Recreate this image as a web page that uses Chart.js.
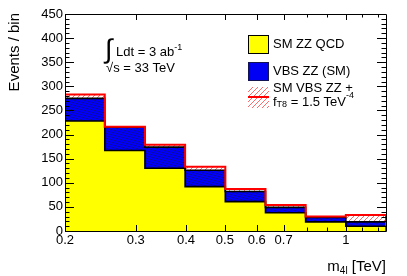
<!DOCTYPE html>
<html>
<head>
<meta charset="utf-8">
<script src="https://cdn.jsdelivr.net/npm/chart.js@4.4.4/dist/chart.umd.min.js"></script>
<style>
  html, body { margin: 0; padding: 0; background: #fff; }
  #wrap { width: 407px; height: 276px; }
</style>
</head>
<body>
<div id="wrap"><canvas id="chart" width="407" height="276"></canvas></div>
<script>
// bin edges in TeV, 0.1 decade wide
const binEdges = [0.2, 0.2512, 0.3162, 0.3981, 0.5012, 0.6310, 0.7943, 1.0, 1.2589];
// events per bin
const qcdZZ = [228, 167, 130, 92, 61, 38, 19, 10];
const vbsZZ = [47, 48, 44, 34, 21, 11, 9, 9];
const vbsZZfT8 = [55, 49, 49, 41, 26, 16, 11, 23];

const xTickValues = [0.2, 0.3, 0.4, 0.5, 0.6, 0.7, 0.8, 0.9, 1, 1.1, 1.2];
const xTickLabels = ["0.2", "0.3", "0.4", "0.5", "0.6", "0.7", "", "", "1", "", ""];
const yMin = 0, yMax = 450, yStep = 50, yMinorStep = 10;

const FONT = "'Liberation Sans', Arial, sans-serif";

function addUp(a, b) {
    return a.map((v, i) => v + b[i]);
}

// histogram outline as a stepped line, closed down to zero on both ends
function stepPoints(vals) {
    const last = binEdges[binEdges.length - 1];
    const pts = [{x: binEdges[0], y: 0}];
    vals.forEach((v, i) => pts.push({x: binEdges[i], y: v}));
    pts.push({x: last, y: vals[vals.length - 1]});
    pts.push({x: last, y: 0});
    return pts;
}

const canvas = document.getElementById("chart");
const ctx = canvas.getContext("2d");

function hatch(bg, fg, size, lw) {
    const c = document.createElement("canvas");
    c.width = size;
    c.height = size;
    const g = c.getContext("2d");
    if (bg) {
        g.fillStyle = bg;
        g.fillRect(0, 0, size, size);
    }
    g.strokeStyle = fg;
    g.lineWidth = lw;
    g.beginPath();
    g.moveTo(-1, size + 1);
    g.lineTo(size + 1, -1);
    g.moveTo(-2, 2);
    g.lineTo(2, -2);
    g.moveTo(size - 2, size + 2);
    g.lineTo(size + 2, size - 2);
    g.stroke();
    return ctx.createPattern(c, "repeat");
}

const bluePattern = hatch("rgb(0,0,245)", "rgb(20,20,120)", 5, 0.8);
const redPattern = hatch(null, "rgb(255,90,90)", 5, 0.9);

const sumSM = addUp(qcdZZ, vbsZZ);
const sumBSM = addUp(qcdZZ, vbsZZfT8);

// frame, inward ticks, titles, annotations and legend
const decorations = {
    id: "decorations",
    afterDraw(chart) {
        const c = chart.ctx;
        const a = chart.chartArea;
        const xs = chart.scales.x;
        const ys = chart.scales.y;
        c.save();
        c.strokeStyle = "#000";
        c.lineWidth = 1;
        c.beginPath();
        c.rect(Math.round(a.left) + 0.5, Math.round(a.top) + 0.5,
            Math.round(a.right - a.left), Math.round(a.bottom - a.top));
        c.stroke();

        c.beginPath();
        for (let v = yMin; v <= yMax; v += yMinorStep) {
            const y = Math.round(ys.getPixelForValue(v)) + 0.5;
            const len = v % yStep === 0 ? 9 : 4.5;
            c.moveTo(a.left, y);
            c.lineTo(a.left + len, y);
            c.moveTo(a.right, y);
            c.lineTo(a.right - len, y);
        }
        xTickValues.forEach((v, i) => {
            const x = Math.round(xs.getPixelForValue(v)) + 0.5;
            const len = xTickLabels[i] ? 6 : 3.5;
            c.moveTo(x, a.bottom);
            c.lineTo(x, a.bottom - len);
            c.moveTo(x, a.top);
            c.lineTo(x, a.top + len);
        });
        c.stroke();

        c.fillStyle = "#000";
        // y title
        c.save();
        c.translate(15, 13);
        c.rotate(-Math.PI / 2);
        c.textAlign = "right";
        c.textBaseline = "middle";
        c.font = "15px " + FONT;
        c.fillText("Events / bin", 0, 0);
        c.restore();

        // x title m_4l [TeV], right aligned to the frame
        c.textBaseline = "alphabetic";
        c.textAlign = "left";
        c.font = "15px " + FONT;
        const wm = c.measureText("m").width;
        const wRest = c.measureText(" [TeV]").width;
        c.font = "10px " + FONT;
        const wSub = c.measureText("4l").width;
        let x0 = a.right - wm - wSub - wRest;
        c.font = "15px " + FONT;
        c.fillText("m", x0, 271);
        c.font = "10px " + FONT;
        c.fillText("4l", x0 + wm, 274);
        c.font = "15px " + FONT;
        c.fillText(" [TeV]", x0 + wm + wSub, 271);

        // luminosity and energy
        c.font = "27px " + FONT;
        c.fillText("\u222B", 105, 58);
        c.font = "13px " + FONT;
        c.fillText("Ldt = 3 ab", 116, 56);
        let w = c.measureText("Ldt = 3 ab").width;
        c.font = "9px " + FONT;
        c.fillText("-1", 116 + w, 50);
        c.font = "13px " + FONT;
        c.fillText("\u221As = 33 TeV", 106, 72);

        // legend
        c.fillStyle = "rgb(255,255,0)";
        c.fillRect(248, 35, 20, 18);
        c.strokeStyle = "#000";
        c.strokeRect(248.5, 35.5, 20, 18);
        c.fillStyle = "rgb(0,0,245)";
        c.fillRect(248, 62, 20, 18);
        c.strokeStyle = "rgb(20,20,80)";
        c.strokeRect(248.5, 62.5, 20, 18);
        c.fillStyle = redPattern;
        c.fillRect(248, 87, 21, 21);
        c.strokeStyle = "rgb(255,0,0)";
        c.lineWidth = 2;
        c.beginPath();
        c.moveTo(248, 97);
        c.lineTo(269, 97);
        c.stroke();

        c.fillStyle = "#000";
        c.textBaseline = "middle";
        c.font = "13px " + FONT;
        c.fillText("SM ZZ QCD", 273, 44);
        c.fillText("VBS ZZ (SM)", 273, 71);
        c.fillText("SM VBS ZZ +", 273, 88);
        let lx = 273;
        c.fillText("f", lx, 102);
        lx += c.measureText("f").width;
        c.font = "9px " + FONT;
        c.fillText("T8", lx, 105);
        lx += c.measureText("T8").width;
        c.font = "13px " + FONT;
        c.fillText(" = 1.5 TeV", lx, 102);
        lx += c.measureText(" = 1.5 TeV").width;
        c.font = "9px " + FONT;
        c.fillText("-4", lx, 96);
        c.restore();
    }
};

new Chart(ctx, {
    type: "line",
    data: {
        datasets: [
            {
                label: "SM ZZ QCD",
                data: stepPoints(qcdZZ),
                stepped: "before",
                fill: "origin",
                backgroundColor: "rgb(255,255,0)",
                borderColor: "#000",
                borderWidth: 1.6,
                pointRadius: 0,
                order: 3,
            },
            {
                label: "VBS ZZ (SM)",
                data: stepPoints(sumSM),
                stepped: "before",
                fill: "-1",
                backgroundColor: bluePattern,
                borderColor: "#000",
                borderWidth: 1.6,
                pointRadius: 0,
                order: 2,
            },
            {
                label: "SM VBS ZZ + fT8 = 1.5 TeV-4",
                data: stepPoints(sumBSM),
                stepped: "before",
                fill: "-1",
                backgroundColor: redPattern,
                borderColor: "rgb(255,0,0)",
                borderWidth: 2,
                pointRadius: 0,
                order: 1,
            },
        ],
    },
    options: {
        responsive: false,
        animation: false,
        layout: {padding: {left: 0, top: 14, right: 21, bottom: 0}},
        plugins: {
            legend: {display: false},
            tooltip: {enabled: false},
            filler: {drawTime: "beforeDatasetsDraw"},
        },
        scales: {
            x: {
                type: "logarithmic",
                min: binEdges[0],
                max: binEdges[binEdges.length - 1],
                grid: {display: false, drawTicks: false},
                border: {display: false},
                afterBuildTicks: (scale) => {
                    scale.ticks = xTickValues.map((v) => ({value: v}));
                },
                afterFit: (scale) => {
                    scale.height = 45;
                },
                ticks: {
                    autoSkip: false,
                    maxRotation: 0,
                    padding: 2,
                    color: "#000",
                    font: {family: FONT, size: 13},
                    callback: (v, i) => xTickLabels[i],
                },
            },
            y: {
                min: yMin,
                max: yMax,
                grid: {display: false, drawTicks: false},
                border: {display: false},
                afterFit: (scale) => {
                    scale.width = 65;
                },
                ticks: {
                    stepSize: yStep,
                    padding: 2,
                    color: "#000",
                    font: {family: FONT, size: 13},
                },
            },
        },
    },
    plugins: [decorations],
});
</script>
</body>
</html>
